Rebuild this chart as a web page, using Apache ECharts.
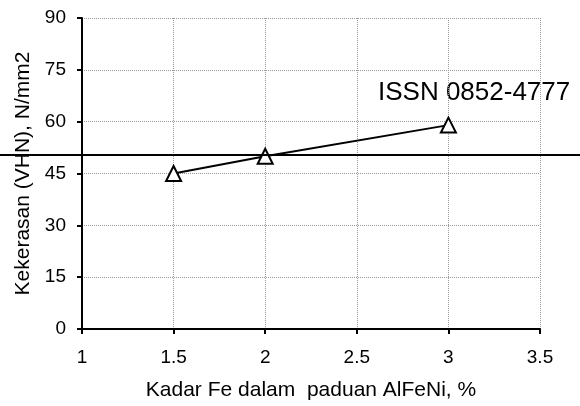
<!DOCTYPE html>
<html><head><meta charset="utf-8">
<script src="https://cdn.jsdelivr.net/npm/echarts@6/dist/echarts.min.js"></script>
<style>html,body{margin:0;padding:0;background:#fff}#c{width:580px;height:406px}</style>
</head><body><div id="c"></div>
<script>
var feContent = [1.5, 2, 3];
var hardness = [45, 50, 59];
var xTitle = 'Kadar Fe dalam  paduan AlFeNi, %';
var yTitle = 'Kekerasan (VHN), N/mm2';
var note = 'ISSN 0852-4777';

var chart = echarts.init(document.getElementById('c'));
var font = '"Liberation Sans", Arial, sans-serif';
chart.setOption({
  animation: false,
  grid: {left: 82, right: 40, top: 18, bottom: 76},
  xAxis: {
    type: 'value', min: 1, max: 3.5, interval: 0.5,
    name: xTitle, nameLocation: 'middle', nameGap: 51,
    nameTextStyle: {fontFamily: font, fontSize: 21, color: '#000'},
    axisLine: {lineStyle: {color: '#000', width: 2}},
    axisTick: {show: true, length: 5, lineStyle: {color: '#000', width: 2}},
    axisLabel: {fontFamily: font, fontSize: 19, color: '#000', margin: 19},
    splitLine: {show: true, lineStyle: {color: '#999', type: [1, 1], width: 1}}
  },
  yAxis: {
    type: 'value', min: 0, max: 90, interval: 15,
    name: yTitle, nameLocation: 'middle', nameGap: 48,
    nameTextStyle: {fontFamily: font, fontSize: 21, color: '#000'},
    axisLine: {show: true, lineStyle: {color: '#000', width: 2}},
    axisTick: {show: true, length: 5, lineStyle: {color: '#000', width: 2}},
    axisLabel: {fontFamily: font, fontSize: 19, color: '#000', margin: 16},
    splitLine: {show: true, lineStyle: {color: '#999', type: [1, 1], width: 1}}
  },
  series: [{
    type: 'line',
    data: feContent.map(function (x, i) { return [x, hardness[i]]; }),
    symbol: 'triangle', symbolSize: 15,
    itemStyle: {color: '#fff', borderColor: '#000', borderWidth: 2},
    lineStyle: {color: '#000', width: 2}
  }],
  graphic: [
    {type: 'line', shape: {x1: 0, y1: 155, x2: 580, y2: 155}, style: {stroke: '#000', lineWidth: 2}, z: 100},
    {type: 'text', x: 378, y: 93, style: {text: note, fontFamily: font, fontSize: 26, fill: '#000', verticalAlign: 'middle'}}
  ]
});
</script></body></html>
